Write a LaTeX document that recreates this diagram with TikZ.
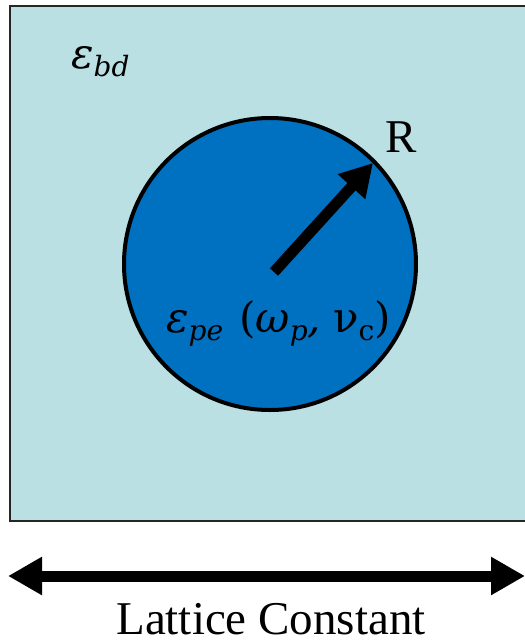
\documentclass[tikz,border=0pt]{standalone}
\usepackage{fontspec}
\setmainfont{Liberation Serif}
\newfontfamily\mathlike{DejaVu Serif}
\usetikzlibrary{arrows.meta}
\definecolor{cellbg}{HTML}{BAE0E3}
\definecolor{rodblue}{HTML}{0070C0}
\newcommand{\mysub}[1]{\raisebox{-8pt}{\fontsize{28}{30}\selectfont #1}}
\tikzset{
  bigtxt/.style={inner sep=0pt, text depth=0pt, font=\fontsize{47}{50}\selectfont},
  mathtxt/.style={inner sep=0pt, font=\mathlike\fontsize{42}{46}\selectfont\itshape},
  thickarrow/.style={line width=11pt, line cap=butt},
}
\begin{document}
\begin{tikzpicture}[x=1pt,y=-1pt]
\useasboundingbox (0,0) rectangle (525,641);
% unit cell
\fill[cellbg] (10,6) rectangle (525,521);
\draw[line width=2pt, black!85] (525,6) -- (10,6) -- (10,521) -- (525,521);
% rod
\node[circle, draw=black, line width=4pt, fill=rodblue, minimum size=292pt, inner sep=0pt] (rod) at (270,264) {};
% radius arrow
\coordinate (rc) at (274,272);
\coordinate (rt) at (373,163);
\draw[thickarrow, -{Triangle[length=32pt,width=35pt]}] (rc) -- (rt);
% labels
\node[mathtxt, anchor=base west] (ebd) at (71,68) {ε\mysub{bd}};
\node[mathtxt, anchor=base west] (epe) at (166,332) {ε\mysub{pe}\hspace{16pt}{\upshape(}ω\mysub{p},\hspace{12pt}{\upshape ν\mysub{c})}};
\node[bigtxt, anchor=base west] (rlab) at (385,152) {R};
% lattice constant arrow
\coordinate (la) at (8,576);
\coordinate (lb) at (525,576);
\draw[thickarrow, {Triangle[length=34pt,width=36pt]}-{Triangle[length=34pt,width=36pt]}] (la) -- (lb);
\node[bigtxt, anchor=base] (lc) at (271,634) {Lattice Constant};
\end{tikzpicture}
\end{document}
